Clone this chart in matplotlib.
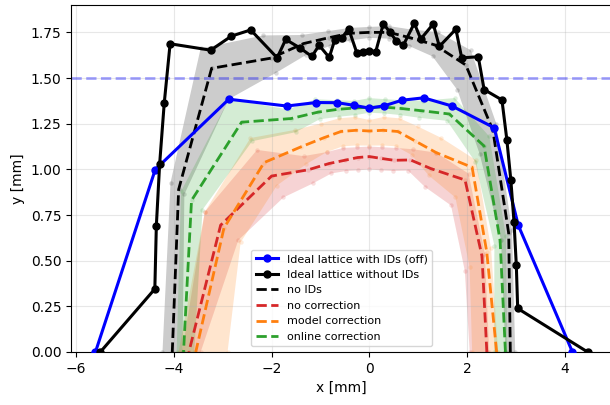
import numpy as np
import matplotlib
matplotlib.use("Agg")
import matplotlib.pyplot as plt

# ray angles (deg) of the tracking scans
angles_15 = np.linspace(0, 180, 15)
angles_41 = np.linspace(0, 180, 41)

# ideal lattices (radius along each ray, mm)
r_ideal_ids_off = [4.15, 3.12, 2.83, 2.16, 1.78, 1.53, 1.383, 1.335, 1.385,
                   1.515, 1.747, 2.16, 3.19, 4.49, 5.6]
r_ideal_no_ids = [4.46, 3.04, 3.04, 3.04, 3.04, 3.04, 3.04, 2.75, 2.75, 2.48, 2.50,
                  2.20, 2.22, 2.01, 2.02, 1.82, 1.79, 1.80, 1.82, 1.65, 1.65,
                  1.65, 1.66, 1.82, 1.81, 1.85, 1.81, 1.97, 2.00, 2.19, 2.42,
                  2.48, 3.0, 3.31, 3.64, 4.41, 4.41, 4.41, 4.41, 4.40, 5.50]

# seed statistics: mean, lower and upper edge of spread
r_noids_mean = [2.88, 2.92, 2.80, 2.52, 2.15, 1.91, 1.795, 1.75, 1.79, 1.91, 2.16, 2.58, 3.58, 4.00, 4.03]
r_noids_lo = [2.78, 2.76, 2.50, 2.30, 2.07, 1.86, 1.76, 1.72, 1.75, 1.86, 2.08, 2.45, 3.19, 3.88, 3.82]
r_noids_hi = [2.98, 2.99, 2.88, 2.65, 2.24, 1.96, 1.83, 1.78, 1.82, 1.95, 2.22, 2.78, 3.83, 4.17, 4.23]

r_nocorr_mean = [2.40, 2.36, 2.17, 1.61, 1.345, 1.165, 1.087, 1.07, 1.092, 1.165, 1.32, 1.60, 2.22, 3.12, 3.69]
r_nocorr_lo = [2.05, 2.00, 1.85, 1.45, 1.27, 1.10, 1.02, 1.00, 1.02, 1.10, 1.25, 1.48, 1.95, 2.75, 3.45]
r_nocorr_hi = [2.45, 2.42, 2.25, 1.75, 1.42, 1.24, 1.15, 1.125, 1.15, 1.24, 1.40, 1.72, 2.55, 3.45, 3.83]

r_model_mean = [2.60, 2.46, 2.33, 1.75, 1.48, 1.34, 1.245, 1.21, 1.245, 1.34, 1.50, 1.80, 2.39, 3.05, 3.55]
r_model_lo = [2.10, 2.10, 1.95, 1.55, 1.38, 1.25, 1.16, 1.13, 1.16, 1.25, 1.40, 1.65, 2.10, 2.70, 2.90]
r_model_hi = [2.63, 2.55, 2.42, 1.88, 1.58, 1.42, 1.32, 1.27, 1.32, 1.42, 1.60, 1.95, 2.70, 3.45, 3.90]

r_online_mean = [2.78, 2.74, 2.60, 2.09, 1.69, 1.48, 1.375, 1.34, 1.37, 1.475, 1.68, 2.05, 2.90, 3.73, 3.80]
r_online_lo = [2.55, 2.62, 2.40, 2.03, 1.64, 1.44, 1.34, 1.31, 1.33, 1.43, 1.63, 1.93, 2.66, 3.50, 3.58]
r_online_hi = [2.82, 2.86, 2.72, 2.23, 1.76, 1.53, 1.42, 1.39, 1.41, 1.53, 1.77, 2.13, 3.19, 3.95, 3.94]


def to_xy(ang, r):
    t = np.deg2rad(ang)
    r = np.asarray(r)
    return r * np.cos(t), r * np.sin(t)


def plot_setup(ax, mean, lo, hi, color, label):
    xl, yl = to_xy(angles_15, lo)
    xh, yh = to_xy(angles_15, hi)
    ax.fill(np.concatenate([xh, xl[::-1]]), np.concatenate([yh, yl[::-1]]),
            color=color, alpha=0.2, lw=0)
    for rr in (lo, mean, hi):
        xs, ys = to_xy(angles_15, rr)
        ax.scatter(xs, ys, s=10, color=color, alpha=0.15, lw=0)
    xm, ym = to_xy(angles_15, mean)
    ax.plot(xm, ym, '--', color=color, lw=2, label=label)


fig = plt.figure(figsize=(6.1, 4.05), dpi=100)
ax = fig.add_axes([0.1164, 0.1309, 0.887, 0.8568])

x, y = to_xy(angles_15, r_ideal_ids_off)
ax.plot(x, y, 'o-', color='blue', lw=2.2, ms=5, label='Ideal lattice with IDs (off)', zorder=5)
x, y = to_xy(angles_41, r_ideal_no_ids)
ax.plot(x, y, 'o-', color='black', lw=2.2, ms=5, label='Ideal lattice without IDs', zorder=6)

plot_setup(ax, r_noids_mean, r_noids_lo, r_noids_hi, 'black', 'no IDs')
plot_setup(ax, r_nocorr_mean, r_nocorr_lo, r_nocorr_hi, 'tab:red', 'no correction')
plot_setup(ax, r_model_mean, r_model_lo, r_model_hi, 'tab:orange', 'model correction')
plot_setup(ax, r_online_mean, r_online_lo, r_online_hi, 'tab:green', 'online correction')

ax.axhline(1.5, color='blue', ls='--', lw=2, alpha=0.35)

ax.set_xlim(-6.1, 4.96)
ax.set_ylim(0, 1.9)
ax.set_xlabel('x [mm]')
ax.set_ylabel('y [mm]')
ax.grid(True, alpha=0.3)
ax.legend(loc='lower center', fontsize=8)

fig.savefig('out.png')
